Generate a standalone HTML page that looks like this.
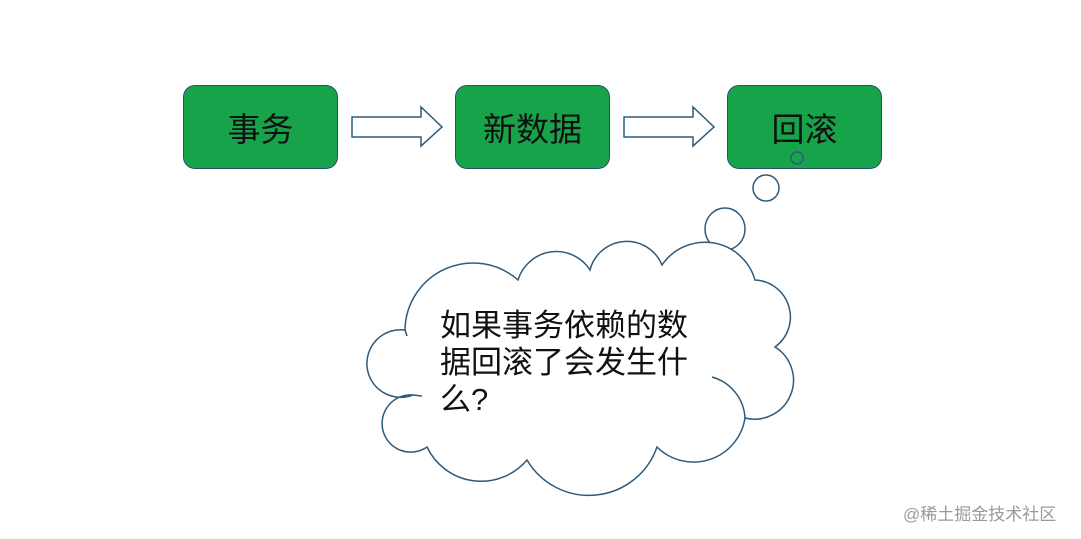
<!DOCTYPE html>
<html><head><meta charset="utf-8"><style>
html,body{margin:0;padding:0;background:#fff;width:1081px;height:539px;overflow:hidden;position:relative;font-family:"Liberation Sans","Noto Sans CJK SC",sans-serif}
.box{position:absolute;top:85px;width:155px;height:84px;background:#17a34a;border:1.5px solid #2d4f66;border-radius:12px;box-sizing:border-box;display:flex;align-items:center;justify-content:center;font-size:33px;color:#111}
.t{position:absolute;left:440px;font-size:31px;color:#111;line-height:37px;top:307px;width:270px}
.wm{position:absolute;left:903px;top:500px;font-size:17px;color:#9a9a9a}
</style></head><body>
<div class="box" style="left:183px">事务</div>
<div class="box" style="left:455px">新数据</div>
<div class="box" style="left:727px">回滚</div>
<svg width="1081" height="539" style="position:absolute;left:0;top:0">
<g fill="#fff" stroke="#2f5a7a" stroke-width="1.5">
<path d="M352 117 H421 V107 L442 127 L421 146 V137 H352 Z"/>
<path d="M624 117 H693 V107 L714 127 L693 146 V137 H624 Z"/>
<circle cx="797" cy="158" r="6" fill="none"/>
<circle cx="766" cy="188" r="13"/>
<ellipse cx="725" cy="229" rx="20" ry="21"/>
<path d="M405 330 A68 68 0 0 1 518 280 A40 40 0 0 1 590 270 A38 38 0 0 1 662 265 A52 52 0 0 1 755 280 A37 37 0 0 1 775 347 A39 39 0 0 1 745 418 A52 52 0 0 1 657 447 A72 72 0 0 1 527 460 A60 60 0 0 1 427 447 A28.6 28.6 0 1 1 413 395 A33.8 33.8 0 1 1 405 330 Z"/>
</g>
<g fill="none" stroke="#2f5a7a" stroke-width="1.5">
<path d="M712 377 A45 45 0 0 1 745 418"/>
<path d="M405 330 L407 336"/>
<path d="M413 395 L422 396"/>
</g>
</svg>
<div class="t">如果事务依赖的数<br>据回滚了会发生什<br>么?</div>
<div class="wm">@稀土掘金技术社区</div>
</body></html>
